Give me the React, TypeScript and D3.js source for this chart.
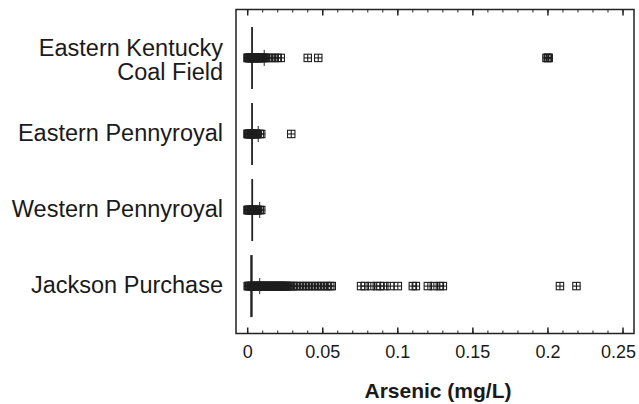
import React from "react";
import * as d3 from "d3";

const regions = ["Eastern Kentucky Coal Field", "Eastern Pennyroyal", "Western Pennyroyal", "Jackson Purchase"];
const regionLines = [["Eastern Kentucky", "Coal Field"], ["Eastern Pennyroyal"], ["Western Pennyroyal"], ["Jackson Purchase"]];

const ekValues = [0, 0, 0.0005, 0.001, 0.001, 0.0015, 0.002, 0.002, 0.0025, 0.003, 0.003, 0.0035, 0.004, 0.0045, 0.005, 0.005, 0.0055, 0.006, 0.0065, 0.007, 0.0075, 0.008, 0.0085, 0.009, 0.0095, 0.01, 0.0105, 0.011, 0.012, 0.014, 0.016, 0.018, 0.02, 0.022, 0.04, 0.047, 0.199, 0.2, 0.2, 0.2005];
const epValues = [0, 0, 0.0005, 0.001, 0.001, 0.0015, 0.002, 0.0025, 0.003, 0.003, 0.0035, 0.004, 0.0045, 0.005, 0.0055, 0.006, 0.0065, 0.008, 0.009, 0.029];
const wpValues = [0, 0, 0.0005, 0.001, 0.001, 0.0015, 0.002, 0.0025, 0.003, 0.003, 0.0035, 0.004, 0.0045, 0.005, 0.0055, 0.006, 0.0065, 0.007, 0.008, 0.009];
const jpValues = [0, 0.0005, 0.001, 0.0015, 0.002, 0.0025, 0.003, 0.0035, 0.004, 0.0045, 0.005, 0.0055, 0.006, 0.0065, 0.007, 0.0075, 0.008, 0.0085, 0.009, 0.0095, 0.01, 0.0105, 0.011, 0.0115, 0.012, 0.0125, 0.013, 0.0135, 0.014, 0.0145, 0.015, 0.0155, 0.016, 0.0165, 0.017, 0.0175, 0.018, 0.0185, 0.019, 0.0195, 0.02, 0.0205, 0.021, 0.0215, 0.022, 0.0225, 0.023, 0.0235, 0.024, 0.0245, 0.025, 0.0255, 0.026, 0.027, 0.028, 0.029, 0.03, 0.031, 0.033, 0.035, 0.037, 0.039, 0.041, 0.043, 0.045, 0.047, 0.049, 0.051, 0.053, 0.055, 0.056, 0.0755, 0.078, 0.082, 0.086, 0.088, 0.091, 0.095, 0.1, 0.11, 0.112, 0.12, 0.124, 0.128, 0.13, 0.208, 0.219];
const seriesValues = [ekValues, epValues, wpValues, jpValues];

const medians = [0.0029, 0.0029, 0.003, 0.0025];
const upperWhiskers = [0.011, 0.007, 0.008, 0.008];
const lowerWhiskers = [0, 0, 0, 0];

const xTicks = [0, 0.05, 0.1, 0.15, 0.2, 0.25];
const xTickLabels = ["0", "0.05", "0.1", "0.15", "0.2", "0.25"];
const minorTicks = d3.range(0, 26).map((i) => i / 100);

const W = 639, H = 404;
const frame = { left: 236, right: 634, top: 9.5, bottom: 333.5 };

export default function App() {
  const x = d3.scaleLinear().domain([0, 0.25]).range([247.7, 623]);
  const y = d3.scalePoint<string>().domain(regions).range([10, 334]).padding(0.63);
  const ink = "#222";
  const font = "'Liberation Sans', Arial, Helvetica, sans-serif";
  const s = 3.7;

  return (
    <svg width={W} height={H} style={{ position: "absolute", left: 0, top: 0, background: "#fff" }}>
      <rect x={0} y={0} width={W} height={H} fill="#fff" />
      <rect x={frame.left} y={frame.top} width={frame.right - frame.left} height={frame.bottom - frame.top} fill="none" stroke={ink} strokeWidth={1.5} />
      {minorTicks.map((t, i) => (
        <g key={"m" + i}>
          <line x1={x(t)} x2={x(t)} y1={frame.bottom} y2={frame.bottom - 3} stroke={ink} strokeWidth={1} />
          <line x1={x(t)} x2={x(t)} y1={frame.top} y2={frame.top + 3} stroke={ink} strokeWidth={1} />
        </g>
      ))}
      {xTicks.map((t, i) => {
        const last = i === xTicks.length - 1;
        return (
          <g key={"M" + i}>
            <line x1={x(t)} x2={x(t)} y1={frame.bottom} y2={frame.bottom - 6} stroke={ink} strokeWidth={1.5} />
            <line x1={x(t)} x2={x(t)} y1={frame.top} y2={frame.top + 6} stroke={ink} strokeWidth={1.5} />
            <text x={last ? 636 : x(t)} y={358} textAnchor={last ? "end" : "middle"} fontFamily={font} fontSize={18} fill="#1a1a1a">{xTickLabels[i]}</text>
          </g>
        );
      })}
      <text x={438} y={398} textAnchor="middle" fontFamily={font} fontSize={21} fontWeight="bold" fill="#1a1a1a">Arsenic (mg/L)</text>
      {regions.map((r, i) => {
        const cy = y(r)!;
        const lines = regionLines[i];
        return (
          <text key={r} textAnchor="end" fontFamily={font} fontSize={23.5} fill="#1a1a1a">
            {lines.map((ln, j) => (
              <tspan key={j} x={223} y={lines.length > 1 ? cy - 2 + j * 24 : cy + 7}>{ln}</tspan>
            ))}
          </text>
        );
      })}
      {regions.map((r, i) => {
        const cy = y(r)!;
        return (
          <g key={"b" + r}>
            <line x1={x(lowerWhiskers[i])} x2={x(upperWhiskers[i])} y1={cy} y2={cy} stroke={ink} strokeWidth={1} />
            <line x1={x(upperWhiskers[i])} x2={x(upperWhiskers[i])} y1={cy - 8} y2={cy + 8} stroke={ink} strokeWidth={1} />
            <line x1={x(medians[i])} x2={x(medians[i])} y1={cy - 31} y2={cy + 31} stroke={ink} strokeWidth={i === 3 ? 2.4 : 1.8} />
          </g>
        );
      })}
      {regions.map((r, i) => {
        const cy = y(r)!;
        return (
          <g key={"p" + r} stroke="#1e1e1e" strokeWidth={1.1} fill="none">
            {seriesValues[i].map((v, k) => {
              const cx = x(v);
              return (
                <g key={k}>
                  <rect x={cx - s} y={cy - s} width={2 * s} height={2 * s} />
                  <line x1={cx} x2={cx} y1={cy - s} y2={cy + s} />
                  <line x1={cx - s} x2={cx + s} y1={cy} y2={cy} />
                </g>
              );
            })}
          </g>
        );
      })}
    </svg>
  );
}
